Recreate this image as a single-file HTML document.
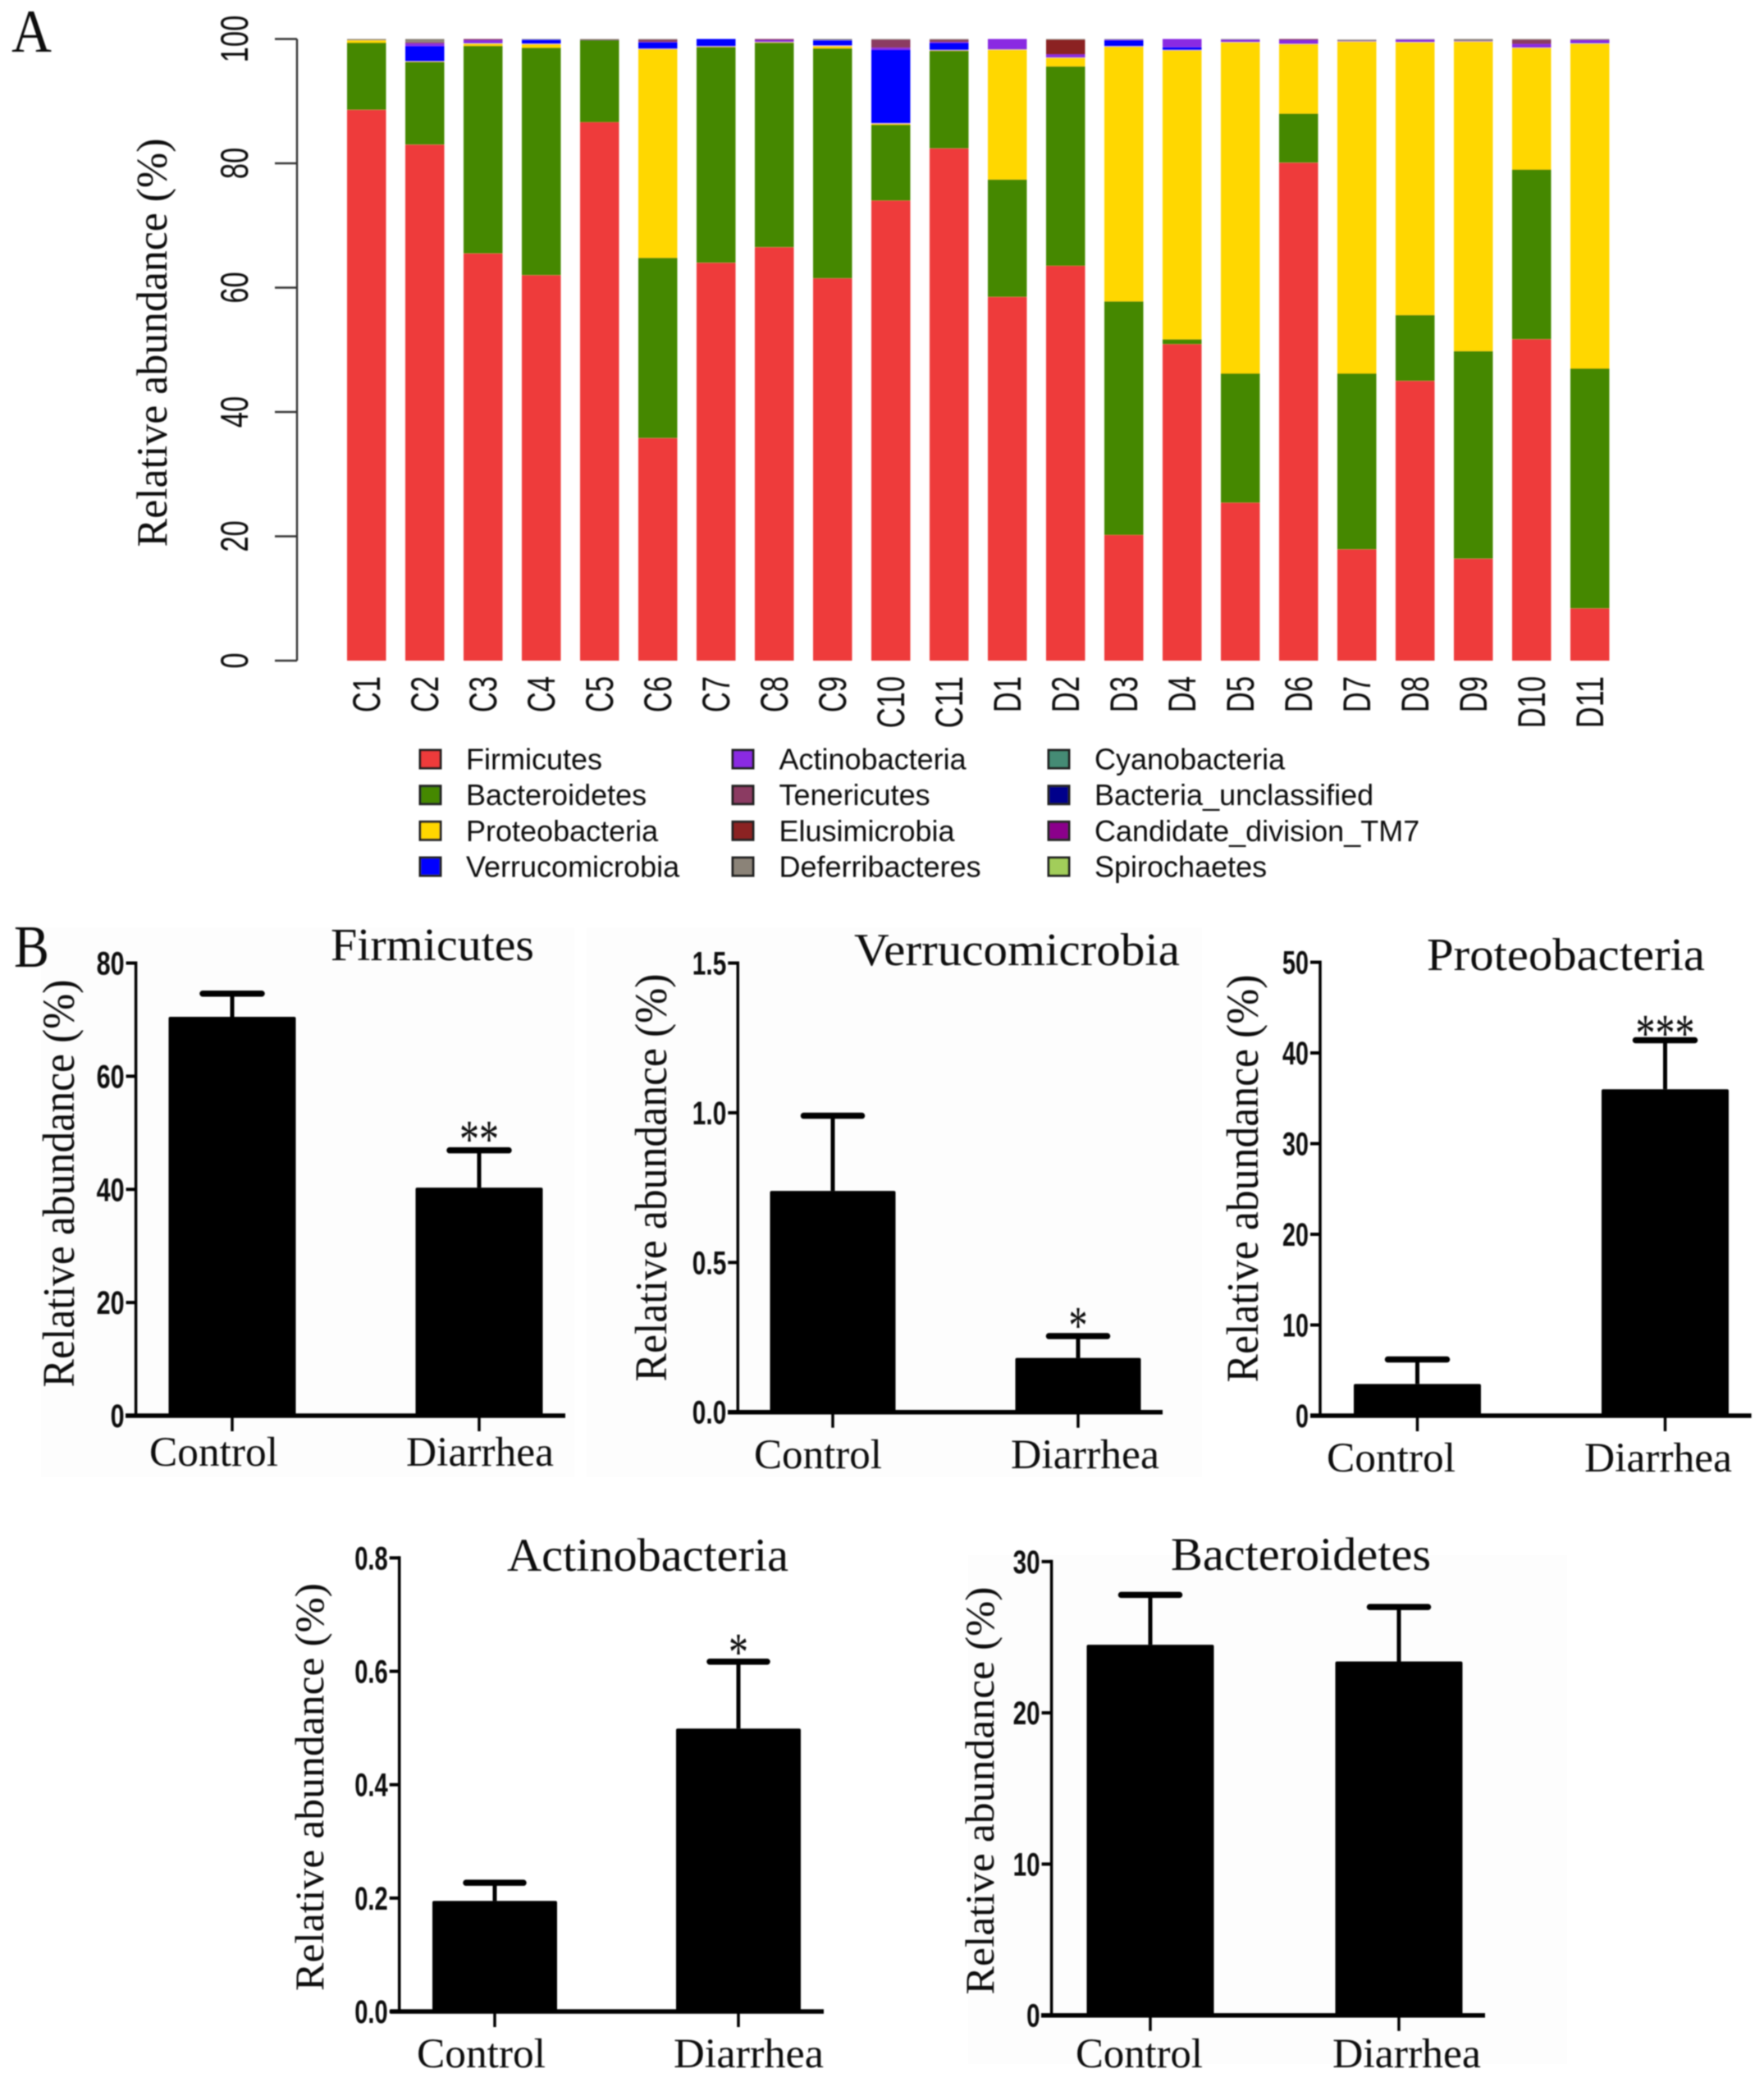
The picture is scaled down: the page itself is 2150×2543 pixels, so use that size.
<!DOCTYPE html>
<html lang="en">
<head>
<meta charset="utf-8">
<title>Relative abundance of gut bacterial phyla</title>
<style>
html,body{margin:0;padding:0;background:#fff;width:2150px;height:2543px;overflow:hidden}
svg{display:block}
text{fill:#111}
.serif{font-family:"Liberation Serif",serif}
.sans{font-family:"Liberation Sans",sans-serif}
</style>
</head>
<body>
<svg id="figure" xmlns="http://www.w3.org/2000/svg" width="2150" height="2543" viewBox="0 0 2150 2543">
  <rect x="0" y="0" width="2150" height="2543" fill="#fff"/>
  <rect x="50" y="1130" width="650" height="670" fill="#fdfdfd"/>
  <rect x="715" y="1130" width="750" height="670" fill="#fdfdfd"/>
  <rect x="1180" y="1895" width="730" height="620" fill="#fdfdfd"/>
  <defs><filter id="soft" x="-2%" y="-2%" width="104%" height="104%"><feGaussianBlur stdDeviation="0.7"/></filter></defs>
  <g id="root" filter="url(#soft)">
    <text class="serif" x="14" y="63" font-size="74" textLength="49" lengthAdjust="spacingAndGlyphs">A</text>
    <text class="serif" x="17" y="1178" font-size="73" textLength="43" lengthAdjust="spacingAndGlyphs">B</text>
    <g id="stacked"></g>
    <g id="legend"></g>
    <g id="panels"></g>
  </g>
</svg>
<script>
// ---- Panel A data ----
const categories = ["C1","C2","C3","C4","C5","C6","C7","C8","C9","C10","C11","D1","D2","D3","D4","D5","D6","D7","D8","D9","D10","D11"];
const firmicutes      = [88.6,83.0,65.5,62.0,86.6,35.8,64.0,66.5,61.5,74.0,82.4,58.5,63.5,20.2,50.9,25.4,80.1,17.9,45.0,16.4,51.7,8.4];
const bacteroidetes   = [10.8,13.3,33.4,36.6,13.2,29.0,34.7,32.9,37.0,12.2,15.7,18.9,32.1,37.6,0.8,20.8,7.9,28.3,10.6,33.4,27.3,38.6];
const proteobacteria  = [0.4,0.1,0.4,0.6,0.0,33.6,0.1,0.1,0.4,0.2,0.1,20.9,1.4,41.0,46.5,53.3,11.2,53.4,43.9,49.8,19.6,52.3];
const verrucomicrobia = [0.0,2.5,0.1,0.7,0.0,1.1,1.2,0.0,0.9,11.9,1.2,0.0,0.0,1.0,0.5,0.0,0.0,0.0,0.0,0.0,0.0,0.1];
const actinobacteria  = [0.0,0.4,0.4,0.0,0.0,0.0,0.0,0.3,0.0,0.3,0.1,1.7,0.5,0.1,1.3,0.4,0.6,0.1,0.4,0.1,0.6,0.4];
const tenericutes     = [0.0,0.2,0.2,0.0,0.1,0.4,0.0,0.2,0.0,1.3,0.4,0.0,0.0,0.0,0.0,0.0,0.2,0.0,0.0,0.0,0.7,0.1];
const elusimicrobia   = [0.0,0.0,0.0,0.0,0.0,0.0,0.0,0.0,0.0,0.0,0.0,0.0,2.4,0.0,0.0,0.0,0.0,0.0,0.0,0.0,0.0,0.0];
const deferribacteres = [0.2,0.5,0.0,0.1,0.1,0.1,0.0,0.0,0.2,0.1,0.1,0.0,0.1,0.1,0.0,0.1,0.0,0.2,0.1,0.3,0.1,0.1];
const cyanobacteria   = [0.0,0.0,0.0,0.0,0.0,0.0,0.0,0.0,0.0,0.0,0.0,0.0,0.0,0.0,0.0,0.0,0.0,0.0,0.0,0.0,0.0,0.0];
const unclassified    = [0.0,0.0,0.0,0.0,0.0,0.0,0.0,0.0,0.0,0.0,0.0,0.0,0.0,0.0,0.0,0.0,0.0,0.0,0.0,0.0,0.0,0.0];
const candidateTM7    = [0.0,0.0,0.0,0.0,0.0,0.0,0.0,0.0,0.0,0.0,0.0,0.0,0.0,0.0,0.0,0.0,0.0,0.0,0.0,0.0,0.0,0.0];
const spirochaetes    = [0.0,0.0,0.0,0.0,0.0,0.0,0.0,0.0,0.0,0.0,0.0,0.0,0.0,0.0,0.0,0.0,0.0,0.0,0.0,0.0,0.0,0.0];
const stackedTicks = [0,20,40,60,80,100];
const seriesNames = ["Firmicutes","Bacteroidetes","Proteobacteria","Verrucomicrobia","Actinobacteria","Tenericutes","Elusimicrobia","Deferribacteres","Cyanobacteria","Bacteria_unclassified","Candidate_division_TM7","Spirochaetes"];
const seriesValues = [firmicutes,bacteroidetes,proteobacteria,verrucomicrobia,actinobacteria,tenericutes,elusimicrobia,deferribacteres,cyanobacteria,unclassified,candidateTM7,spirochaetes];
const seriesColors = ["#EE3B3B","#458800","#FFD700","#0000FF","#8A2BE2","#8B3A62","#8B2323","#8B8378","#458B74","#00008B","#8B008B","#A2CD5A"];

// ---- Panel B data ----
const groupLabels = ["Control","Diarrhea"];
const firmicutesMeans = [70.5,40.3];
const firmicutesErrorTops = [74.6,46.9];
const firmicutesTicks = ["0","20","40","60","80"];
const firmicutesStars = ["","**"];
const verrucoMeans = [0.739,0.181];
const verrucoErrorTops = [0.99,0.254];
const verrucoTicks = ["0.0","0.5","1.0","1.5"];
const verrucoStars = ["","*"];
const proteoMeans = [3.5,36.0];
const proteoErrorTops = [6.2,41.4];
const proteoTicks = ["0","10","20","30","40","50"];
const proteoStars = ["","***"];
const actinoMeans = [0.195,0.499];
const actinoErrorTops = [0.227,0.617];
const actinoTicks = ["0.0","0.2","0.4","0.6","0.8"];
const actinoStars = ["","*"];
const bacteroMeans = [24.5,23.4];
const bacteroErrorTops = [27.8,27.0];
const bacteroTicks = ["0","10","20","30"];
const bacteroStars = ["",""];

const NS = "http://www.w3.org/2000/svg";
function make(parent, tag, attrs, content){
  const el = document.createElementNS(NS, tag);
  for (const k in attrs) el.setAttribute(k, attrs[k]);
  if (content !== undefined) el.textContent = content;
  parent.appendChild(el);
  return el;
}
function slug(s){ return String(s).toLowerCase().replace(/[^a-z0-9]+/g,'-'); }

// ---- Panel A ----
(function(){
  const g = document.getElementById('stacked');
  const y0 = 805, yTop = 47.5, axisX = 362;
  const yScale = v => y0 - (v/100)*(y0-yTop);
  const xLeft = i => 423 + i*71;
  const barW = 47.5;
  const squeeze = 34.5;
  const emLen = s => { let t=0; for (const c of s) t += /[0-9]/.test(c)?0.556:0.722; return t*squeeze; };

  categories.forEach((cat,i)=>{
    let acc = 0;
    seriesValues.forEach((vals,s)=>{
      const v = vals[i];
      if (v <= 0) return;
      const top = yScale(Math.min(acc+v,100)), bot = yScale(acc);
      const r = make(g,'rect',{x:xLeft(i),y:top,width:barW,height:bot-top,fill:seriesColors[s]});
      
      
      acc += v;
    });
    const tx = xLeft(i)+barW/2+16;
    const t = make(g,'text',{class:'sans',x:0,y:0,'font-size':47,'text-anchor':'end',fill:'#222',
      transform:`translate(${tx},824) rotate(-90)`,textLength:emLen(cat),lengthAdjust:'spacingAndGlyphs'},cat);
    
    
  });

  const axis = make(g,'line',{x1:axisX,x2:axisX,y1:yScale(100),y2:yScale(0),stroke:'#333','stroke-width':2.4});
  
  
  stackedTicks.forEach(v=>{
    const y = yScale(v);
    const tk = make(g,'line',{x1:335,x2:axisX,y1:y,y2:y,stroke:'#333','stroke-width':2.4});
    
    
    const label = String(v);
    const t = make(g,'text',{class:'sans',x:0,y:0,'font-size':47,'text-anchor':'middle',fill:'#222',
      transform:`translate(302,${y}) rotate(-90)`,textLength:emLen(label),lengthAdjust:'spacingAndGlyphs'},label);
    
    
  });
  const title = make(g,'text',{class:'serif',x:0,y:0,'font-size':53,'text-anchor':'middle',fill:'#111',
    transform:'translate(203,417.5) rotate(-90)',textLength:498,lengthAdjust:'spacingAndGlyphs'},'Relative abundance (%)');
  
  
})();

// ---- Legend ----
(function(){
  const g = document.getElementById('legend');
  const cols = [{box:512,text:568},{box:893,text:949.5},{box:1278,text:1334}];
  const rows = [925,968.7,1012.3,1056];
  seriesNames.forEach((name,i)=>{
    const c = cols[Math.floor(i/4)], y = rows[i%4];
    const item = make(g,'g',{});
    
    
    const sw = make(item,'rect',{x:c.box,y:y-11,width:25,height:22,fill:seriesColors[i],stroke:'#222','stroke-width':3});
    
    
    const t = make(item,'text',{class:'sans',x:c.text,y:y+12.5,'font-size':36,fill:'#222'},name);
    
    
  });
})();

// ---- Panel B ----
const panelLayouts = [
  {id:'firmicutes',title:'Firmicutes',means:firmicutesMeans,tops:firmicutesErrorTops,ticks:firmicutesTicks,stars:firmicutesStars,
   axisX:165.6,y0:1725,yT:1173.5,cx0:283,step:301,barW:155,capW:80,baseL:153,baseR:689,
   tX:403,tW:248,tY:1170,tFont:56,lblX0:182,lblW0:157,lblX1:495,lblW1:180,lblY:1786,lblFont:51,
   yLblX:90,yLblC:1442,yLblLen:497,yLblFont:55,starBase:1410,starFont:66,starW:46,digit:17},
  {id:'verrucomicrobia',title:'Verrucomicrobia',means:verrucoMeans,tops:verrucoErrorTops,ticks:verrucoTicks,stars:verrucoStars,
   axisX:899.3,y0:1720.7,yT:1173.5,cx0:1015,step:299,barW:153,capW:79,baseL:887,baseR:1417,
   tX:1041,tW:397,tY:1176,tFont:56,lblX0:919,lblW0:156,lblX1:1232,lblW1:181,lblY:1789,lblFont:51,
   yLblX:812,yLblC:1435,yLblLen:497,yLblFont:55,starBase:1637,starFont:66,starW:21,digit:17},
  {id:'proteobacteria',title:'Proteobacteria',means:proteoMeans,tops:proteoErrorTops,ticks:proteoTicks,stars:proteoStars,
   axisX:1609,y0:1725,yT:1172.5,cx0:1727.5,step:302,barW:155,capW:80,baseL:1597,baseR:2134.6,
   tX:1739,tW:339,tY:1182,tFont:56,lblX0:1617,lblW0:157,lblX1:1931,lblW1:180,lblY:1793,lblFont:51,
   yLblX:1533,yLblC:1436,yLblLen:497,yLblFont:55,starBase:1281,starFont:66,starW:70,digit:16},
  {id:'actinobacteria',title:'Actinobacteria',means:actinoMeans,tops:actinoErrorTops,ticks:actinoTicks,stars:actinoStars,
   axisX:486.7,y0:2451,yT:1898.3,cx0:603,step:297,barW:152,capW:78,baseL:475.5,baseR:1004,
   tX:618,tW:343,tY:1914,tFont:57,lblX0:508,lblW0:157,lblX1:821,lblW1:183,lblY:2519,lblFont:51,
   yLblX:394,yLblC:2177.5,yLblLen:497,yLblFont:50,starBase:2035,starFont:66,starW:22,digit:16.5},
  {id:'bacteroidetes',title:'Bacteroidetes',means:bacteroMeans,tops:bacteroErrorTops,ticks:bacteroTicks,stars:bacteroStars,
   axisX:1281.6,y0:2455.7,yT:1902.8,cx0:1402,step:303,barW:155,capW:79,baseL:1269,baseR:1810,
   tX:1427,tW:317,tY:1913,tFont:57,lblX0:1311,lblW0:155,lblX1:1624,lblW1:181,lblY:2519,lblFont:51,
   yLblX:1211,yLblC:2182,yLblLen:497,yLblFont:50,starBase:0,starFont:66,starW:0,digit:16.5}
];

panelLayouts.forEach(p=>{
  const root = document.getElementById('panels');
  const g = make(root,'g',{});
  
  
  const maxV = parseFloat(p.ticks[p.ticks.length-1]);
  const yS = v => p.y0 - (v/maxV)*(p.y0-p.yT);
  const xS = i => p.cx0 + i*p.step;

  p.means.forEach((m,i)=>{
    const cx = xS(i), top = yS(p.tops[i]);
    const err = make(g,'line',{x1:cx,x2:cx,y1:top,y2:yS(m),stroke:'#000','stroke-width':5});
    
    
    const cap = make(g,'line',{x1:cx-p.capW/2+4,x2:cx+p.capW/2-4,y1:top,y2:top,stroke:'#000','stroke-width':7.5,'stroke-linecap':'round'});
    
    
    const bar = make(g,'rect',{x:cx-p.barW/2,y:yS(m),width:p.barW,height:p.y0-yS(m),fill:'#000',rx:2});
    
    
    const tk = make(g,'line',{x1:cx,x2:cx,y1:p.y0,y2:p.y0+19,stroke:'#000','stroke-width':3.5});
    
    
    const lx = i===0?p.lblX0:p.lblX1, lw = i===0?p.lblW0:p.lblW1;
    const lbl = make(g,'text',{class:'serif',x:lx,y:p.lblY,'font-size':p.lblFont,textLength:lw,lengthAdjust:'spacingAndGlyphs'},groupLabels[i]);
    
    
    if (p.stars[i]) {
      const st = make(g,'text',{class:'serif',x:cx,y:p.starBase,'font-size':p.starFont,'text-anchor':'middle',textLength:p.starW+2,lengthAdjust:'spacingAndGlyphs'},p.stars[i]);
      
      
    }
  });

  const yAxis = make(g,'line',{x1:p.axisX,x2:p.axisX,y1:p.yT-2,y2:p.y0,stroke:'#000','stroke-width':3.5});
  
  
  const base = make(g,'line',{x1:p.baseL,x2:p.baseR,y1:p.y0,y2:p.y0,stroke:'#000','stroke-width':5.5});
  
  

  p.ticks.forEach(label=>{
    const y = yS(parseFloat(label));
    const tk = make(g,'line',{x1:p.axisX-12,x2:p.axisX,y1:y,y2:y,stroke:'#000','stroke-width':4});
    
    
    let len = 0;
    for (const ch of label) len += ch==='.'?7.5:p.digit;
    const t = make(g,'text',{class:'sans','font-weight':'bold',x:p.axisX-14,y:y+14,'font-size':40,'text-anchor':'end',textLength:len,lengthAdjust:'spacingAndGlyphs'},label);
    
    
  });

  const title = make(g,'text',{class:'serif',x:p.tX,y:p.tY,'font-size':p.tFont,textLength:p.tW,lengthAdjust:'spacingAndGlyphs'},p.title);
  
  
  const yl = make(g,'text',{class:'serif',x:0,y:0,'font-size':p.yLblFont,'text-anchor':'middle',
    transform:`translate(${p.yLblX},${p.yLblC}) rotate(-90)`,textLength:p.yLblLen,lengthAdjust:'spacingAndGlyphs',fill:'#222'},'Relative abundance (%)');
  
  
});
</script>
</body>
</html>
